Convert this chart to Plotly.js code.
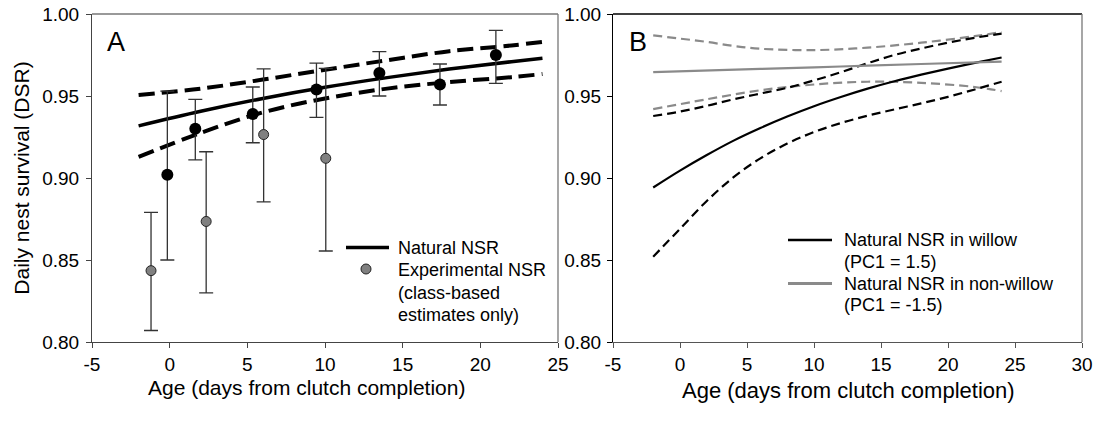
<!DOCTYPE html>
<html>
<head>
<meta charset="utf-8">
<script src="https://cdn.plot.ly/plotly-3.0.1.min.js"></script>
<style>html,body{margin:0;padding:0;background:#fff;}#chart{width:1098px;height:421px;}</style>
</head>
<body>
<div id="chart"></div>
<script>
// ---------- Panel A data ----------
const ageNat = [-0.15, 1.65, 5.35, 9.45, 13.5, 17.4, 21.0];
const dsrNat = [0.902, 0.930, 0.939, 0.954, 0.964, 0.957, 0.975];
const natHi  = [0.953, 0.948, 0.9555, 0.970, 0.977, 0.9695, 0.990];
const natLo  = [0.850, 0.911, 0.9215, 0.937, 0.950, 0.9445, 0.9577];

const ageExp = [-1.2, 2.35, 6.05, 10.05];
const dsrExp = [0.8435, 0.8735, 0.9265, 0.912];
const expHi  = [0.879, 0.916, 0.9665, 0.9668];
const expLo  = [0.807, 0.830, 0.8855, 0.8555];

const fitAgeA = [-2, 2, 6, 10, 14, 18, 22, 24];
const fitA    = [0.9318, 0.9407, 0.9485, 0.9553, 0.9612, 0.9664, 0.9709, 0.9730];
const fitAHi  = [0.9506, 0.9545, 0.9600, 0.9660, 0.9718, 0.9773, 0.9808, 0.9830];
const fitALo  = [0.9129, 0.9275, 0.9400, 0.9485, 0.9545, 0.9585, 0.9615, 0.9634];

// ---------- Panel B data ----------
const ageW     = [-2, 0, 2, 4, 6, 8, 10, 12, 14, 16, 18, 20, 22, 24];
const willow   = [0.8942, 0.9045, 0.914, 0.9228, 0.9305, 0.9375, 0.9438, 0.9494, 0.9545, 0.959, 0.963, 0.9667, 0.9702, 0.9735];
const willowHi = [0.9378, 0.9405, 0.944, 0.948, 0.9515, 0.955, 0.9595, 0.9645, 0.970, 0.975, 0.979, 0.9825, 0.9855, 0.988];
const willowLo = [0.852, 0.869, 0.886, 0.9005, 0.912, 0.921, 0.928, 0.9335, 0.938, 0.9418, 0.9455, 0.9495, 0.954, 0.9587];

const ageNW     = [-2, 6, 12, 18, 24];
const nonWillow = [0.9645, 0.9665, 0.968, 0.9695, 0.971];
const ageNWHi   = [-2, 0, 2, 4, 6, 10, 14, 18, 22, 24];
const nonWillowHi = [0.987, 0.985, 0.983, 0.9805, 0.9788, 0.978, 0.9795, 0.9825, 0.9865, 0.989];
const ageNWLo   = [-2, 2, 6, 10, 14, 18, 22, 24];
const nonWillowLo = [0.942, 0.948, 0.9535, 0.957, 0.9587, 0.958, 0.9555, 0.953];

// ---------- ticks & labels ----------
const xTickValsA = [-5, 0, 5, 10, 15, 20, 25];
const xTickTextA = ['-5', '0', '5', '10', '15', '20', '25'];
const xTickValsB = [-5, 0, 5, 10, 15, 20, 25, 30];
const xTickTextB = ['-5', '0', '5', '10', '15', '20', '25', '30'];
const yTickVals  = [0.80, 0.85, 0.90, 0.95, 1.00];
const yTickText  = ['0.80', '0.85', '0.90', '0.95', '1.00'];
const xTitle = 'Age (days from clutch completion)';
const yTitle = 'Daily nest survival (DSR)';
const legAText = ['Natural NSR', 'Experimental NSR', '(class-based', 'estimates only)'];
const legBText = ['Natural NSR in willow', '(PC1 = 1.5)', 'Natural NSR in non-willow', '(PC1 = -1.5)'];

const FONT = 'Liberation Sans, Arial, sans-serif';
const GRAY = '#8a8a8a';

const traces = [
  {x: fitAgeA, y: fitAHi, mode: 'lines', line: {color: '#000', width: 4, dash: '16px,7px', shape: 'spline'}, showlegend: false, xaxis: 'x', yaxis: 'y', hoverinfo: 'skip'},
  {x: fitAgeA, y: fitALo, mode: 'lines', line: {color: '#000', width: 4, dash: '16px,7px', shape: 'spline'}, showlegend: false, xaxis: 'x', yaxis: 'y', hoverinfo: 'skip'},
  {x: fitAgeA, y: fitA, name: legAText[0], mode: 'lines', line: {color: '#000', width: 3.5, shape: 'spline'}, showlegend: false, xaxis: 'x', yaxis: 'y'},
  {x: ageNat, y: dsrNat, mode: 'markers', showlegend: false, xaxis: 'x', yaxis: 'y',
   marker: {color: '#000', size: 12, line: {width: 0}},
   error_y: {type: 'data', symmetric: false, array: natHi.map((v, i) => v - dsrNat[i]), arrayminus: dsrNat.map((v, i) => v - natLo[i]), color: '#333', thickness: 1.3, width: 7}},
  {x: ageExp, y: dsrExp, name: legAText[1], mode: 'markers', showlegend: false, xaxis: 'x', yaxis: 'y',
   marker: {color: '#808080', size: 10, line: {color: '#222', width: 1}},
   error_y: {type: 'data', symmetric: false, array: expHi.map((v, i) => v - dsrExp[i]), arrayminus: dsrExp.map((v, i) => v - expLo[i]), color: '#333', thickness: 1.3, width: 7}},
  {x: ageNWHi, y: nonWillowHi, mode: 'lines', line: {color: GRAY, width: 2.2, dash: '9px,5px', shape: 'spline'}, showlegend: false, xaxis: 'x2', yaxis: 'y2', hoverinfo: 'skip'},
  {x: ageNWLo, y: nonWillowLo, mode: 'lines', line: {color: GRAY, width: 2.2, dash: '9px,5px', shape: 'spline'}, showlegend: false, xaxis: 'x2', yaxis: 'y2', hoverinfo: 'skip'},
  {x: ageW, y: willowHi, mode: 'lines', line: {color: '#000', width: 2.2, dash: '9px,5px', shape: 'spline'}, showlegend: false, xaxis: 'x2', yaxis: 'y2', hoverinfo: 'skip'},
  {x: ageW, y: willowLo, mode: 'lines', line: {color: '#000', width: 2.2, dash: '9px,5px', shape: 'spline'}, showlegend: false, xaxis: 'x2', yaxis: 'y2', hoverinfo: 'skip'},
  {x: ageW, y: willow, name: legBText[0], mode: 'lines', line: {color: '#000', width: 2.2, shape: 'spline'}, showlegend: false, xaxis: 'x2', yaxis: 'y2'},
  {x: ageNW, y: nonWillow, name: legBText[2], mode: 'lines', line: {color: GRAY, width: 2.2, shape: 'spline'}, showlegend: false, xaxis: 'x2', yaxis: 'y2'}
];

const W = 1098, H = 421;
const px = v => v / W, py = v => 1 - v / H;
const xA = [px(92), px(558)], xB = [px(613), px(1082)];
const yD = [py(342), py(14)];

const axBase = {
  showgrid: false, zeroline: false, showline: true, ticks: 'outside', ticklen: 5, tickmode: 'array',
  tickfont: {family: FONT, size: 19, color: '#000'}
};

function txt(s, x, y, size, anchor) {
  return {text: s, xref: 'paper', yref: 'paper', x: px(x), y: py(y), xanchor: anchor || 'left', yanchor: 'middle',
          showarrow: false, font: {family: FONT, size: size, color: '#000'}};
}

const annotations = [
  txt('A', 105, 42, 27),
  txt('B', 627, 42, 27),
  txt(xTitle, 306, 387, 21, 'center'),
  txt(xTitle, 848, 390, 22, 'center')
];
[248, 270, 292.5, 315].forEach((y, i) => annotations.push(txt(legAText[i], 396, y, 18)));
[240, 262, 283.5, 305].forEach((y, i) => annotations.push(txt(legBText[i], 842, y, 18)));

const layout = {
  width: W, height: H,
  margin: {l: 0, r: 0, t: 0, b: 0},
  paper_bgcolor: '#fff', plot_bgcolor: '#fff',
  font: {family: FONT, color: '#000'},
  showlegend: false,
  xaxis: Object.assign({}, axBase, {domain: xA, range: [-5, 25], tickvals: xTickValsA, ticktext: xTickTextA, linecolor: '#444', tickcolor: '#444', anchor: 'y'}),
  yaxis: Object.assign({}, axBase, {domain: yD, range: [0.8, 1.0], tickvals: yTickVals, ticktext: yTickText, linecolor: '#444', tickcolor: '#444', anchor: 'x',
    ticklabelstandoff: 3, title: {text: yTitle, font: {family: FONT, size: 21}, standoff: 6}}),
  xaxis2: Object.assign({}, axBase, {domain: xB, range: [-5, 30], tickvals: xTickValsB, ticktext: xTickTextB, linecolor: '#555', tickcolor: '#555', anchor: 'y2'}),
  yaxis2: Object.assign({}, axBase, {domain: yD, range: [0.8, 1.0], tickvals: yTickVals, ticktext: yTickText, linecolor: '#000', tickcolor: '#000', anchor: 'x2', ticklabelstandoff: 2}),
  shapes: [
    {type: 'line', xref: 'paper', yref: 'paper', x0: xA[0], x1: xA[1], y0: yD[1], y1: yD[1], line: {color: '#777', width: 1.3}},
    {type: 'line', xref: 'paper', yref: 'paper', x0: xA[1], x1: xA[1], y0: yD[0], y1: yD[1], line: {color: '#777', width: 1.3}},
    {type: 'line', xref: 'paper', yref: 'paper', x0: xB[0], x1: xB[1], y0: yD[1], y1: yD[1], line: {color: '#000', width: 1.3}},
    {type: 'line', xref: 'paper', yref: 'paper', x0: xB[1], x1: xB[1], y0: yD[0], y1: yD[1], line: {color: '#777', width: 1.3}},
    // legend symbols
    {type: 'line', xref: 'paper', yref: 'paper', x0: px(346), x1: px(389), y0: py(247.5), y1: py(247.5), line: {color: '#000', width: 3.5}},
    {type: 'circle', xref: 'paper', yref: 'paper', x0: px(361), x1: px(371), y0: py(264), y1: py(274), fillcolor: '#808080', line: {color: '#222', width: 1}},
    {type: 'line', xref: 'paper', yref: 'paper', x0: px(788), x1: px(832), y0: py(240), y1: py(240), line: {color: '#000', width: 2.5}},
    {type: 'line', xref: 'paper', yref: 'paper', x0: px(788), x1: px(832), y0: py(283.5), y1: py(283.5), line: {color: GRAY, width: 3}}
  ],
  annotations: annotations
};

Plotly.newPlot('chart', traces, layout, {staticPlot: true, displayModeBar: false});
</script>
</body>
</html>
